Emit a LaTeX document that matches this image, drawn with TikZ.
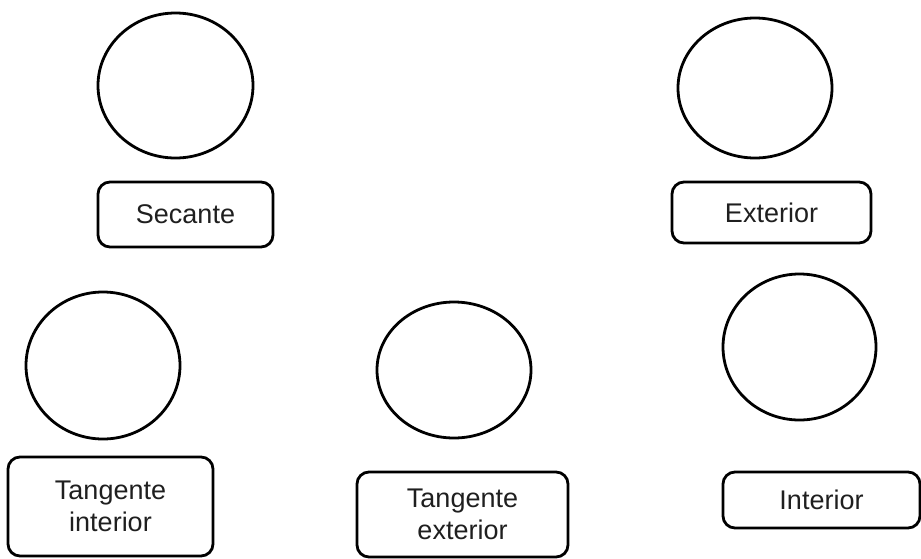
\documentclass[tikz,border=0pt]{standalone}
\usepackage{fontspec}
\setmainfont{Liberation Sans}
\usetikzlibrary{shapes.geometric,arrows.meta}
\tikzset {>=Stealth}
\tikzset{
  ring/.style={ellipse,draw,line width=2.8pt,inner sep=0pt},
  namebox/.style={draw,line width=2.8pt,rounded corners=12pt,align=center,
    text=black!88,font=\fontsize{27}{32}\selectfont},
}

\begin{document}
\begin{tikzpicture}[x=1pt,y=-1pt]
\useasboundingbox (0,0) rectangle (921,558);
\node[ring,minimum width=155pt,minimum height=145pt] (cSec) at (175.5,85.5) {};
\node[ring,minimum width=154pt,minimum height=140pt] (cExt) at (755,88) {};
\node[ring,minimum width=154pt,minimum height=147pt] (cTi) at (103,365.5) {};
\node[ring,minimum width=154pt,minimum height=136pt] (cTe) at (454,370) {};
\node[ring,minimum width=153pt,minimum height=146pt] (cInt) at (799.5,347) {};
\node[namebox,minimum width=175pt,minimum height=65pt] (bSec) at (185.5,214.5) {Secante};
\node[namebox,minimum width=199pt,minimum height=61pt] (bExt) at (771.5,212.5) {Exterior};
\node[namebox,minimum width=205pt,minimum height=99pt] (bTi) at (110.5,506.5) {Tangente\\interior};
\node[namebox,minimum width=211pt,minimum height=85pt] (bTe) at (462.5,514.5) {Tangente\\exterior};
\node[namebox,minimum width=197pt,minimum height=56pt] (bInt) at (821.5,500) {Interior};
\end{tikzpicture}
\end{document}
